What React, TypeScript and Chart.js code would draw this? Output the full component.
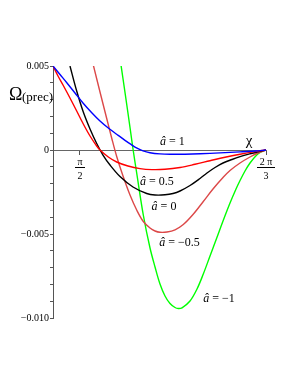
import React, { useEffect, useRef } from "react";
import { Chart, registerables } from "chart.js";

Chart.register(...registerables);

const X_MIN = 1.4948;
const X_MAX = (2 * Math.PI) / 3;
const Y_MIN = -0.01;
const Y_MAX = 0.005;

const seriesNames = ["â = 1", "â = 0.5", "â = 0", "â = −0.5", "â = −1"];
const seriesColors = ["#0000ff", "#ff0000", "#000000", "#dc4848", "#00ff00"];

// chi values and Omega values (in units of 1e-3)
const curveA1 = [
  [1.4948, 5.0], [1.5145, 4.494], [1.5342, 3.988], [1.5567, 3.393], [1.5792, 2.798],
  [1.6046, 2.202], [1.6271, 1.726], [1.6496, 1.321], [1.675, 0.923], [1.6975, 0.577],
  [1.7144, 0.333], [1.7313, 0.107], [1.7482, -0.054], [1.7679, -0.161], [1.796, -0.232],
  [1.8242, -0.256], [1.8664, -0.25], [1.9086, -0.226], [1.9649, -0.173], [2.0213, -0.113],
  [2.0635, -0.06], [X_MAX, 0],
];
const curveA05 = [
  [1.4948, 5.0], [1.5089, 4.405], [1.5238, 3.839], [1.5426, 3.095], [1.5615, 2.321],
  [1.5801, 1.548], [1.599, 0.833], [1.6178, 0.238], [1.6271, 0], [1.6505, -0.417],
  [1.6741, -0.714], [1.7059, -0.952], [1.7397, -1.107], [1.7735, -1.167], [1.8101, -1.149],
  [1.8523, -1.042], [1.8946, -0.851], [1.9368, -0.637], [1.979, -0.429], [2.0213, -0.25],
  [2.0635, -0.095], [X_MAX, 0],
];
const curveA0 = [
  [1.5426, 5.0], [1.5615, 3.512], [1.5801, 2.262], [1.599, 1.25], [1.6178, 0.387],
  [1.6355, -0.298], [1.6553, -0.893], [1.6834, -1.577], [1.72, -2.202], [1.7586, -2.589],
  [1.782, -2.679], [1.8101, -2.667], [1.8326, -2.589], [1.8523, -2.44], [1.8805, -2.113],
  [1.9086, -1.696], [1.9283, -1.369], [1.9509, -1.042], [1.9734, -0.774], [1.9987, -0.565],
  [2.0213, -0.399], [2.0494, -0.226], [2.0719, -0.101], [X_MAX, 0],
];
const curveAm05 = [
  [1.6082, 5.06], [1.6271, 3.452], [1.646, 1.875], [1.66, 0.714], [1.6741, -0.387],
  [1.6919, -1.548], [1.7116, -2.679], [1.7304, -3.571], [1.749, -4.256], [1.7679, -4.643],
  [1.782, -4.821], [1.796, -4.899], [1.8157, -4.881], [1.8383, -4.75], [1.8616, -4.435],
  [1.8889, -3.839], [1.9179, -3.065], [1.9452, -2.321], [1.9734, -1.637], [1.9931, -1.22],
  [2.0213, -0.774], [2.0494, -0.417], [2.0719, -0.179], [X_MAX, 0],
];
const curveAm1 = [
  [1.6862, 5.06], [1.6975, 3.423], [1.7116, 1.339], [1.72, 0.06], [1.7304, -1.369],
  [1.749, -3.869], [1.7679, -5.833], [1.782, -6.964], [1.796, -7.976], [1.8101, -8.69],
  [1.8242, -9.137], [1.8383, -9.375], [1.8475, -9.435], [1.858, -9.393], [1.8805, -8.988],
  [1.9002, -8.274], [1.9179, -7.381], [1.9368, -6.31], [1.9557, -5.238], [1.9734, -4.226],
  [1.9931, -3.155], [2.01, -2.321], [2.0213, -1.815], [2.0353, -1.25], [2.0494, -0.774],
  [2.0683, -0.298], [2.0804, -0.119], [X_MAX, 0],
];
const curves = [curveA1, curveA05, curveA0, curveAm05, curveAm1];

// curve label anchors (left x, baseline y) in data units
const labelX = [1.796, 1.7397, 1.7724, 1.794, 1.9177];
const labelY = [0.0003, -0.00208, -0.00357, -0.00574, -0.00902];
const labelValues = ["1", "0.5", "0", "−0.5", "−1"];

const yTickValues = [0.005, 0, -0.005, -0.01];
const yTickLabels = ["0.005", "0", "−0.005", "−0.010"];

const xTickValues = [Math.PI / 2, (2 * Math.PI) / 3];
const xTickNum = ["π", "2 π"];
const xTickDen = ["2", "3"];

const SERIF = "'Liberation Serif', 'DejaVu Serif', serif";

const textPlugin = {
  id: "texts",
  afterDraw(chart: any) {
    const { ctx } = chart;
    const x = chart.scales.x;
    const y = chart.scales.y;
    ctx.save();
    ctx.fillStyle = "#000";
    const y0 = y.getPixelForValue(0);
    xTickValues.forEach((v, i) => {
      const px = x.getPixelForValue(v);
      ctx.font = `10px ${SERIF}`;
      ctx.textAlign = "center";
      ctx.textBaseline = "middle";
      ctx.fillText(xTickNum[i], px, y0 + 12);
      ctx.fillText(xTickDen[i], px, y0 + 26);
      const w = ctx.measureText(xTickNum[i]).width + 5;
      ctx.fillRect(Math.round(px - w / 2), Math.round(y0 + 17), Math.round(w), 1);
    });
    ctx.textBaseline = "alphabetic";
    ctx.textAlign = "center";
    ctx.font = `15px ${SERIF}`;
    ctx.fillText("χ", 249, y0 - 5);
    ctx.textAlign = "left";
    ctx.font = `18px ${SERIF}`;
    ctx.fillText("Ω", 9, 100);
    ctx.font = `13px ${SERIF}`;
    ctx.fillText("(prec)", 22, 101);
    labelX.forEach((lx, i) => {
      const px = x.getPixelForValue(lx);
      const py = y.getPixelForValue(labelY[i]);
      ctx.font = `italic 12px ${SERIF}`;
      ctx.fillText("â", px, py);
      const w = ctx.measureText("â").width;
      ctx.font = `12px ${SERIF}`;
      ctx.fillText(" = " + labelValues[i], px + w, py);
    });
    ctx.restore();
  },
};

export default function App() {
  const ref = useRef<HTMLCanvasElement>(null);
  useEffect(() => {
    if (!ref.current) return;
    const chart = new Chart(ref.current, {
      type: "line",
      data: {
        datasets: curves.map((c, i) => ({
          label: seriesNames[i],
          data: c.map(([cx, cy]) => ({ x: cx, y: cy / 1000 })),
          borderColor: seriesColors[i],
          borderWidth: 1.4,
          pointRadius: 0,
          tension: 0.35,
          fill: false,
        })),
      },
      options: {
        animation: false,
        responsive: false,
        events: [],
        layout: { padding: { left: 0, top: 66, right: 32, bottom: 67 } },
        plugins: { legend: { display: false }, tooltip: { enabled: false } },
        scales: {
          x: {
            type: "linear",
            min: X_MIN,
            max: X_MAX,
            position: { y: 0 } as any,
            afterBuildTicks: (s: any) => {
              s.ticks = xTickValues.map((v) => ({ value: v }));
            },
            ticks: { display: false },
            grid: {
              display: true,
              drawOnChartArea: false,
              drawTicks: true,
              tickLength: 4,
              color: "#555",
            },
            border: { display: true, color: "#666", width: 1 },
          },
          y: {
            type: "linear",
            min: Y_MIN,
            max: Y_MAX,
            position: "left",
            afterFit: (s: any) => {
              s.width = 53;
            },
            afterBuildTicks: (s: any) => {
              const t = [];
              for (let k = -10; k <= 5; k++) t.push({ value: k / 1000 });
              s.ticks = t;
            },
            ticks: {
              padding: 1,
              color: "#000",
              font: { family: SERIF, size: 10 },
              autoSkip: false,
              callback: (v: any) => {
                const idx = yTickValues.findIndex((t) => Math.abs(t - v) < 1e-9);
                return idx >= 0 ? yTickLabels[idx] : "";
              },
            },
            grid: {
              display: true,
              drawOnChartArea: false,
              drawTicks: true,
              tickLength: 3,
              color: "#555",
            },
            border: { display: true, color: "#555", width: 1 },
          },
        },
      },
      plugins: [textPlugin],
    });
    return () => chart.destroy();
  }, []);
  return (
    <div style={{ position: "fixed", left: 0, top: 0, width: 298, height: 385, background: "#fff" }}>
      <canvas ref={ref} width={298} height={385} />
    </div>
  );
}
